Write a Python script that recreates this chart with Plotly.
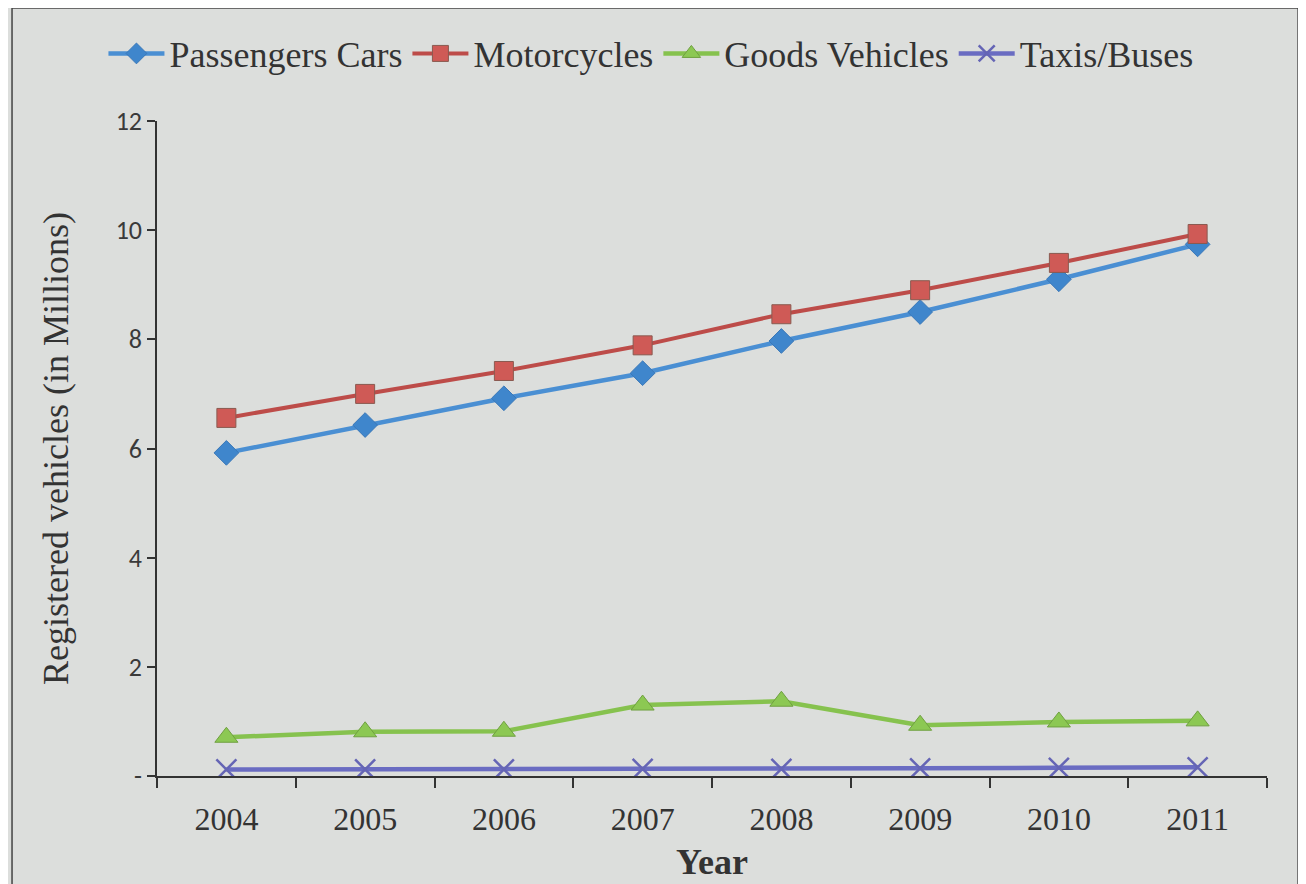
import plotly.graph_objects as go

years = ["2004", "2005", "2006", "2007", "2008", "2009", "2010", "2011"]

passenger_cars = [5.92, 6.43, 6.92, 7.38, 7.97, 8.50, 9.10, 9.74]
motorcycles = [6.56, 7.00, 7.42, 7.89, 8.46, 8.90, 9.40, 9.93]
goods_vehicles = [0.71, 0.81, 0.82, 1.30, 1.37, 0.93, 0.99, 1.01]
taxis_buses = [0.12, 0.12, 0.12, 0.13, 0.13, 0.14, 0.15, 0.16]

y_ticks = [0, 2, 4, 6, 8, 10, 12]
y_tick_labels = ["-", "2", "4", "6", "8", "10", "12"]

serif = "Liberation Serif, Times New Roman, serif"
sans = "Carlito, Open Sans, Liberation Sans, sans-serif"
bg = "#dcdedc"

fig = go.Figure()

fig.add_trace(go.Scatter(
    x=years, y=passenger_cars, name="Passengers Cars", mode="lines+markers",
    line=dict(color="#4a8fd3", width=4.5),
    marker=dict(symbol="diamond", size=19, color="#3f86cc",
                line=dict(color="#3a78b8", width=1)),
))
fig.add_trace(go.Scatter(
    x=years, y=motorcycles, name="Motorcycles", mode="lines+markers",
    line=dict(color="#bd4c49", width=4),
    marker=dict(symbol="square", size=19, color="#cf5a56",
                line=dict(color="#8a5a50", width=1)),
))
fig.add_trace(go.Scatter(
    x=years, y=goods_vehicles, name="Goods Vehicles", mode="lines+markers",
    line=dict(color="#86c24e", width=4.5),
    marker=dict(symbol="triangle-up", size=20, color="#8cc853",
                line=dict(color="#6fa040", width=1)),
))
fig.add_trace(go.Scatter(
    x=years, y=taxis_buses, name="Taxis/Buses", mode="lines+markers",
    line=dict(color="#6a6cc2", width=4.5),
    marker=dict(symbol="x-thin", size=20, color="#6a6cc2",
                line=dict(color="#6565b5", width=2.5)),
))

# the page body adds an 8px offset, so the figure is 8px smaller here
fig.update_layout(
    width=1298,
    height=876,
    paper_bgcolor=bg,
    plot_bgcolor=bg,
    margin=dict(l=149, r=39, t=113, b=108),
    showlegend=True,
    legend=dict(
        orientation="h", x=0.445, xanchor="center", y=1.103, yanchor="middle",
        font=dict(family=serif, size=36, color="#333333"),
        itemwidth=56, bgcolor="rgba(0,0,0,0)", tracegroupgap=0,
    ),
    xaxis=dict(
        type="category", range=[-0.5, 7.5], automargin=False,
        showgrid=False, zeroline=False,
        showline=True, linecolor="#333333", linewidth=1.5,
        ticks="outside", tickson="boundaries", ticklen=10, tickwidth=1.5,
        tickcolor="#333333", ticklabelstandoff=14,
        tickfont=dict(family=serif, size=32, color="#333333"),
        title=dict(text="<b>Year</b>", font=dict(family=serif, size=36, color="#333333"),
                   standoff=13),
    ),
    yaxis=dict(
        range=[0, 12], tickvals=y_ticks, ticktext=y_tick_labels,
        showgrid=False, zeroline=False,
        showline=True, linecolor="#333333", linewidth=1.5,
        ticks="outside", ticklen=8, tickwidth=1.5, tickcolor="#333333",
        ticklabelstandoff=0,
        tickfont=dict(family=sans, size=26, color="#3a3a3a"),
        title=dict(text="Registered vehicles (in Millions)",
                   font=dict(family=serif, size=36, color="#333333"), standoff=36),
    ),
    shapes=[dict(
        type="rect", xref="paper", yref="paper",
        x0=-0.1306, x1=1.028, y0=-0.25, y1=1.1725,
        line=dict(color="#444444", width=1.5), fillcolor="rgba(0,0,0,0)",
        layer="below",
    )],
)

fig.write_html("out.html")
